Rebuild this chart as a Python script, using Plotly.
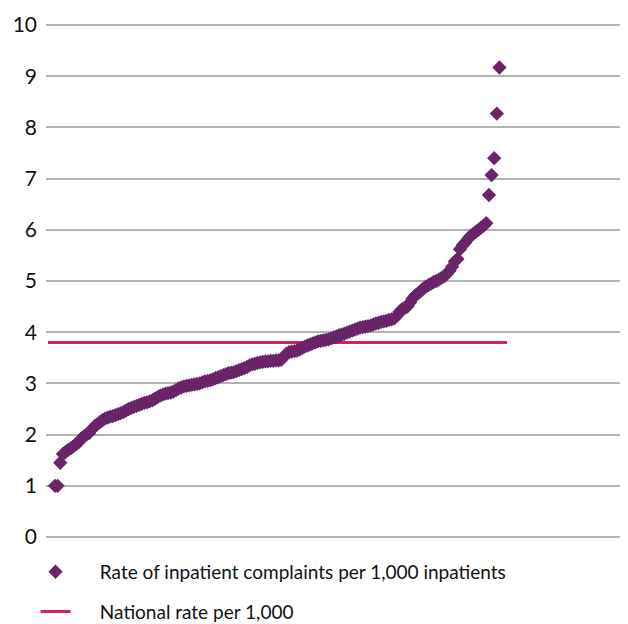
import plotly.graph_objects as go

# Rates of inpatient complaints per 1,000 inpatients (sorted, one per organisation)
rates = [
    1.00, 1.00, 1.45, 1.62, 1.66, 1.70, 1.73, 1.77, 1.81, 1.85,
    1.92, 1.97, 2.00, 2.03, 2.10, 2.16, 2.20, 2.24, 2.28, 2.31,
    2.33, 2.35, 2.36, 2.38, 2.40, 2.42, 2.44, 2.47, 2.50, 2.52,
    2.54, 2.56, 2.58, 2.60, 2.62, 2.63, 2.65, 2.67, 2.70, 2.73,
    2.76, 2.78, 2.80, 2.81, 2.82, 2.84, 2.87, 2.90, 2.92, 2.94,
    2.95, 2.96, 2.97, 2.98, 2.99, 3.00, 3.02, 3.04, 3.05, 3.06,
    3.08, 3.10, 3.12, 3.14, 3.16, 3.18, 3.20, 3.21, 3.22, 3.24,
    3.26, 3.28, 3.30, 3.32, 3.35, 3.37, 3.38, 3.40, 3.41, 3.42,
    3.43, 3.43, 3.44, 3.44, 3.45, 3.45, 3.46, 3.52, 3.58, 3.61,
    3.62, 3.63, 3.64, 3.66, 3.69, 3.72, 3.74, 3.76, 3.78, 3.80,
    3.82, 3.83, 3.84, 3.85, 3.86, 3.88, 3.90, 3.92, 3.94, 3.95,
    3.97, 3.99, 4.01, 4.03, 4.05, 4.07, 4.09, 4.10, 4.11, 4.12,
    4.13, 4.15, 4.17, 4.18, 4.20, 4.21, 4.22, 4.24, 4.25, 4.27,
    4.32, 4.40, 4.45, 4.47, 4.50, 4.58, 4.66, 4.72, 4.76, 4.80,
    4.85, 4.89, 4.92, 4.95, 4.98, 5.00, 5.03, 5.06, 5.09, 5.14,
    5.20, 5.28, 5.38, 5.43, 5.62, 5.70, 5.75, 5.82, 5.88, 5.92,
    5.96, 6.00, 6.04, 6.08, 6.13, 6.68, 7.07, 7.40, 8.27, 9.17,
]
national_rate = 3.8
y_ticks = list(range(0, 11))

series_name = "Rate of inpatient complaints per 1,000 inpatients"
national_name = "National rate per 1,000"
pad = "\u00a0" * 5

n = len(rates)
xs = list(range(1, n + 1))

fig = go.Figure()
fig.add_trace(go.Scatter(
    x=[1 - 2.66, n + 2.9], y=[national_rate, national_rate],
    mode="lines", name=pad + national_name,
    line=dict(color="#D81E5B", width=3),
    legendgroup="b", legendrank=2,
))
fig.add_trace(go.Scatter(
    x=xs, y=rates, mode="markers", name=pad + series_name,
    marker=dict(symbol="diamond", size=11, color="#6A2468",
                line=dict(width=0)),
    legendgroup="a", legendrank=1, cliponaxis=False,
))

# page body adds an 8px margin, so the figure is sized 8px smaller
fig.update_layout(
    width=620, height=616,
    margin=dict(l=38, r=0, t=16, b=86, autoexpand=False),
    paper_bgcolor="white", plot_bgcolor="white",
    font=dict(family="Lato, Open Sans, sans-serif", size=21, color="#111111"),
    xaxis=dict(range=[1 - 9 / 2.63, 1 + 573 / 2.63], showgrid=False,
               showticklabels=False, zeroline=False, showline=False, ticks=""),
    yaxis=dict(range=[-0.02, 10.02], tickvals=y_ticks, showgrid=True,
               gridcolor="#B3B3B3", gridwidth=2, zeroline=False,
               showline=False, ticks="", ticklabelstandoff=8),
    showlegend=True,
    legend=dict(orientation="v", x=-0.018, xanchor="left", y=-0.029,
                yanchor="top", traceorder="grouped", tracegroupgap=12,
                font=dict(size=19, color="#111111"),
                bgcolor="rgba(0,0,0,0)"),
)

fig.write_html("out.html")
